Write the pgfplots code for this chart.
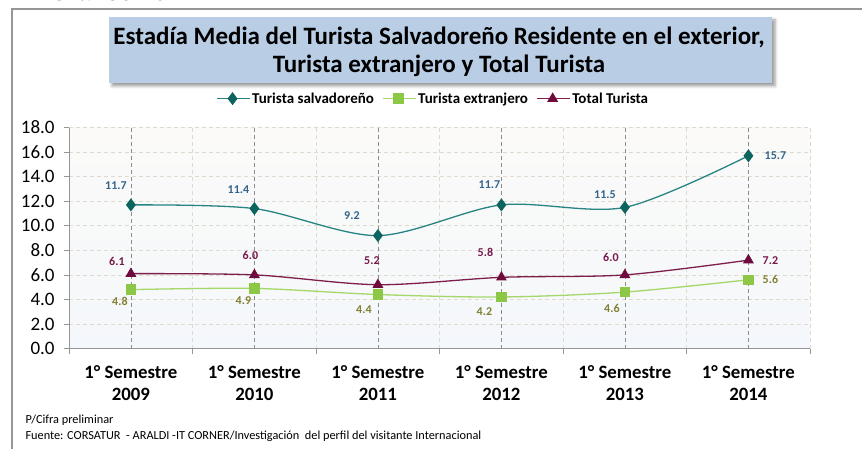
\documentclass[border=0pt]{standalone}
\usepackage{fontspec}
\setmainfont{Carlito}
\newfontfamily\lib{Liberation Sans}
\usepackage{pgfplots}
\pgfplotsset{compat=1.18}
\usepackage{pgfplotstable}
\usetikzlibrary{shadows.blur}

\definecolor{tealL}{RGB}{40,132,130}
\definecolor{tealM}{RGB}{12,100,95}
\definecolor{tealT}{RGB}{50,100,140}
\definecolor{grnL}{RGB}{165,215,105}
\definecolor{grnM}{RGB}{140,200,70}
\definecolor{grnT}{RGB}{130,128,50}
\definecolor{marL}{RGB}{125,30,75}
\definecolor{marM}{RGB}{110,10,60}
\definecolor{marT}{RGB}{120,25,75}
\definecolor{titleblue}{RGB}{185,205,229}
\definecolor{gridlight}{RGB}{222,218,208}
\definecolor{griddark}{RGB}{140,140,140}
\definecolor{axisgray}{RGB}{150,150,150}

\pgfplotstableread{
x y dx dy
0 11.7 -15 19
1 11.4 -16 19
2 9.2 -26 20
3 11.7 -12 20
4 11.5 -20 13
5 15.7 27 0
}\salv
\pgfplotstableread{
x y dx dy
0 4.8 -11 -12
1 4.9 -11 -12
2 4.4 -14 -15
3 4.2 -17 -15
4 4.6 -13 -16
5 5.6 22 0
}\extr
\pgfplotstableread{
x y dx dy
0 6.1 -14 12
1 6.0 -4 19
2 5.2 -6 24
3 5.8 -16 25
4 6.0 -14 17
5 7.2 22 0
}\total

\begin{document}
\begin{tikzpicture}[x=1pt,y=1pt]
\useasboundingbox (0,0) rectangle (862,448);
\clip (0,0) rectangle (862,448);
% frame
\draw[axisgray, line width=1.2pt] (12,-5) -- (12,439) -- (880,439);
\node[anchor=base west, font=\lib\bfseries\itshape\fontsize{24}{28}\selectfont] at (47,447.5) {Gráfico 10};
% title box
\node[fill=titleblue, blur shadow={shadow xshift=3pt, shadow yshift=-3pt, shadow blur radius=3pt},
  minimum width=663pt, minimum height=66pt, inner sep=0pt] at (440.5,398) {};
\node[anchor=base, font=\bfseries\fontsize{25}{29}\selectfont, inner sep=0pt] at (439,403)
  {Estadía Media del Turista Salvadoreño Residente en el exterior,};
\node[anchor=base, font=\bfseries\fontsize{25}{29}\selectfont, inner sep=0pt] at (439,375)
  {Turista extranjero y Total Turista};

\begin{axis}[
  at={(56,81)}, anchor=south west,
  scale only axis, width=741pt, height=221pt,
  xmin=-0.5, xmax=5.5, ymin=0, ymax=18,
  /pgf/number format/assume math mode=true,
  axis lines=left, axis line style={-, axisgray, line width=0.8pt},
  axis background/.style={top color={rgb,255:red,251;green,250;blue,248}, bottom color={rgb,255:red,244;green,247;blue,251}},
  tick align=outside,
  major tick length=5pt,
  tick style={axisgray, line width=0.6pt},
  xtick={-0.5,0.5,...,5.5},
  xticklabels={},
  xmajorgrids, ymajorgrids,
  major grid style={gridlight, dash pattern=on 4pt off 3pt, line width=0.6pt},
  extra x ticks={0,1,2,3,4,5},
  extra x tick labels={1° Semestre\\2009,1° Semestre\\2010,1° Semestre\\2011,1° Semestre\\2012,1° Semestre\\2013,1° Semestre\\2014},
  extra x tick style={major tick length=0pt, grid=major,
     major grid style={griddark, dash pattern=on 4pt off 3pt, line width=0.7pt},
     xticklabel style={align=center, font=\bfseries\fontsize{18.8}{22}\selectfont, yshift=-13pt}},
  ytick={0,2,...,18},
  yticklabel style={font=\fontsize{19}{21}\selectfont, xshift=-6pt},
  yticklabel={\pgfmathprintnumber[fixed,fixed zerofill,precision=1]{\tick}},
  legend style={at={(0.491,1.131)}, anchor=center, draw=none, fill=none,
     legend columns=3, font=\bfseries\fontsize{15}{18}\selectfont,
     /tikz/every even column/.append style={column sep=6pt}},
  legend image code/.code={\draw[mark repeat=2,mark phase=2] plot coordinates {(0pt,0pt) (16pt,0pt) (33pt,0pt)};},
  nodes near coords={\pgfmathprintnumber[fixed,fixed zerofill,precision=1]{\pgfplotspointmeta}},
  point meta=\thisrow{y},
  visualization depends on={\thisrow{dx} \as \dx},
  visualization depends on={\thisrow{dy} \as \dy},
  every node near coord/.append style={anchor=center, xshift=\dx pt, yshift=\dy pt,
     font=\bfseries\fontsize{12}{14}\selectfont},
]
\addplot[tealL, line width=1.3pt, smooth, tension=0.5,
   mark=diamond*, mark size=5.5pt, mark options={solid, fill=tealM, draw=tealM},
   every node near coord/.append style={text=tealT}] table[x=x,y=y] {\salv};
\addlegendentry{Turista salvadoreño}
\addplot[grnL, line width=1.3pt, smooth, tension=0.5,
   mark=square*, mark size=4.5pt, mark options={solid, fill=grnM, draw=grnM},
   every node near coord/.append style={text=grnT}] table[x=x,y=y] {\extr};
\addlegendentry{Turista extranjero}
\addplot[marL, line width=1.3pt, smooth, tension=0.5,
   mark=triangle*, mark size=5pt, mark options={solid, fill=marM, draw=marM},
   every node near coord/.append style={text=marT}] table[x=x,y=y] {\total};
\addlegendentry{Total Turista}
\end{axis}

\node[anchor=west, font=\fontsize{12.3}{14}\selectfont] at (22,28) {P/Cifra preliminar};
\node[anchor=west, font=\fontsize{12.3}{14}\selectfont] at (22,12) {Fuente: CORSATUR \ - ARALDI -IT CORNER/Investigación \ del perfil del visitante Internacional};
\end{tikzpicture}
\end{document}
